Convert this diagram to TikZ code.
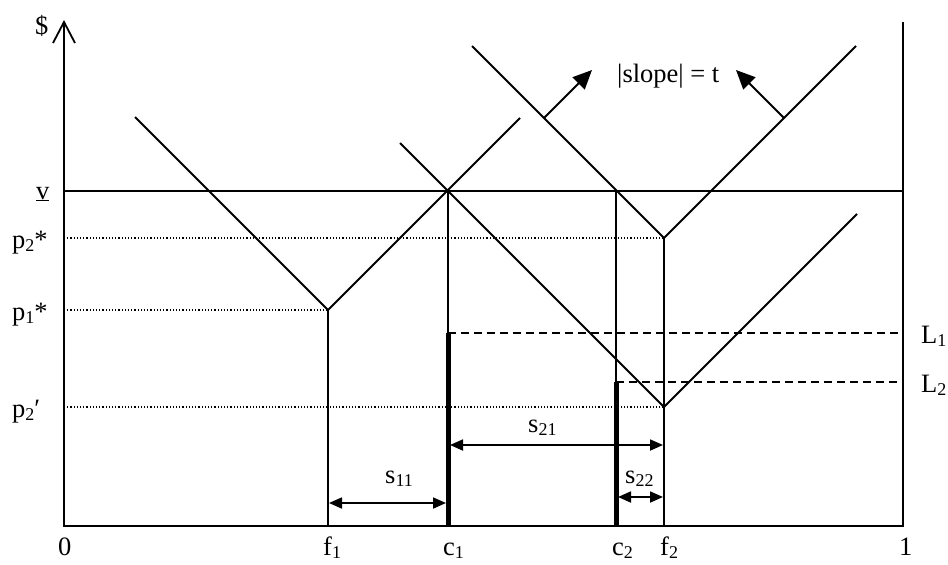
\documentclass[tikz,border=0pt]{standalone}
\usepackage{fontspec}
\setmainfont{Liberation Serif}
\usetikzlibrary{arrows.meta}
\newcommand\sbx[1]{\raisebox{-0.15em}{\fontsize{18}{18}\selectfont #1}}
\tikzset{
  lbl/.style={font=\fontsize{26.5}{28}\selectfont, inner sep=0pt, anchor=base west},
  ln/.style={line width=1.8pt},
  thickln/.style={line width=5pt},
  dotln/.style={line width=1.2pt, dash pattern=on 1.2pt off 2pt},
  dashln/.style={line width=1.8pt, dash pattern=on 8pt off 5pt},
  dimarr/.style={line width=1.8pt, {Triangle[length=13pt,width=11pt]}-{Triangle[length=13pt,width=11pt]}},
  slopearr/.style={line width=1.8pt, -{Triangle[length=19pt,width=17pt]}}
}
\begin{document}
\begin{tikzpicture}[x=1pt,y=-1pt]
\useasboundingbox (0,0) rectangle (948,565);
% key points
\coordinate (O) at (64,526);
\coordinate (Ytop) at (64,22);
\coordinate (R) at (903,526);
\coordinate (Rtop) at (903,22);
\coordinate (vl) at (64,191);
\coordinate (vr) at (903,191);
\coordinate (v1l) at (135,117);
\coordinate (v1) at (328,310);
\coordinate (v1r) at (520,118);
\coordinate (d0) at (400,143);
\coordinate (v3) at (664,407);
\coordinate (v3r) at (857,214);
\coordinate (v2l) at (472,46);
\coordinate (v2) at (664,238);
\coordinate (v2r) at (856,46);
\coordinate (c1v) at (448,191);
\coordinate (c1L) at (448,333);
\coordinate (c1b) at (448,526);
\coordinate (c2v) at (616,191);
\coordinate (c2L) at (616,382);
\coordinate (c2b) at (616,526);
\coordinate (f1b) at (328,526);
\coordinate (f2b) at (664,526);
\coordinate (L1r) at (903,333);
\coordinate (L2r) at (903,382);
\coordinate (p2sL) at (64,238);
\coordinate (p1sL) at (64,310);
\coordinate (p2pL) at (64,407);
% axes
\draw[ln] (Ytop) -- (O) -- (R) -- (Rtop);
\draw[ln] (53,43) -- (Ytop) -- (75,43);
\draw[ln] (vl) -- (vr);
% V curves
\draw[ln] (v1l) -- (v1) -- (v1r);
\draw[ln] (d0) -- (v3) -- (v3r);
\draw[ln] (v2l) -- (v2) -- (v2r);
% verticals
\draw[ln] (v1) -- (f1b);
\draw[ln] (c1v) -- (c1L);
\draw[thickln] (c1L) -- (c1b);
\draw[ln] (c2v) -- (c2L);
\draw[thickln] (c2L) -- (c2b);
\draw[ln] (v2) -- (f2b);
% dotted price lines
\draw[dotln] (p2sL) -- (v2);
\draw[dotln] (p1sL) -- (v1);
\draw[dotln] (p2pL) -- (v3);
% dashed L lines
\draw[dashln] (c1L) -- (L1r);
\draw[dashln] (c2L) -- (L2r);
% dimension arrows
\coordinate (s11a) at (329,503); \coordinate (s11b) at (446,503);
\coordinate (s21a) at (450,445); \coordinate (s21b) at (663,445);
\coordinate (s22a) at (618,497); \coordinate (s22b) at (663,497);
\draw[dimarr] (s11a) -- (s11b);
\draw[dimarr] (s21a) -- (s21b);
\draw[dimarr] (s22a) -- (s22b);
% slope arrows
\coordinate (a1s) at (544,118); \coordinate (a1e) at (592,70);
\coordinate (a2s) at (784,118); \coordinate (a2e) at (736,70);
\draw[slopearr] (a1s) -- (a1e);
\draw[slopearr] (a2s) -- (a2e);
% labels
\node[lbl] (tdollar) at (35,34) {\$};
\node[lbl] (tv) at (36,199) {\underline{v}};
\node[lbl] (tp2s) at (12,248) {p\sbx{2}*};
\node[lbl] (tp1s) at (12,320) {p\sbx{1}*};
\node[lbl] (tp2p) at (12,417) {p\sbx{2}\char"2032};
\node[lbl] (tL1) at (921,343) {L\sbx{1}};
\node[lbl] (tL2) at (921,392) {L\sbx{2}};
\node[lbl] (tslope) at (617,82) {|slope| = t};
\node[lbl] (ts11) at (385,483) {s\sbx{11}};
\node[lbl] (ts21) at (528,432) {s\sbx{21}};
\node[lbl] (ts22) at (625,483) {s\sbx{22}};
\node[lbl] (t0) at (58,555) {0};
\node[lbl] (tf1) at (323,555) {f\sbx{1}};
\node[lbl] (tc1) at (443,555) {c\sbx{1}};
\node[lbl] (tc2) at (612,555) {c\sbx{2}};
\node[lbl] (tf2) at (660,555) {f\sbx{2}};
\node[lbl] (t1) at (899,555) {1};
\end{tikzpicture}
\end{document}
